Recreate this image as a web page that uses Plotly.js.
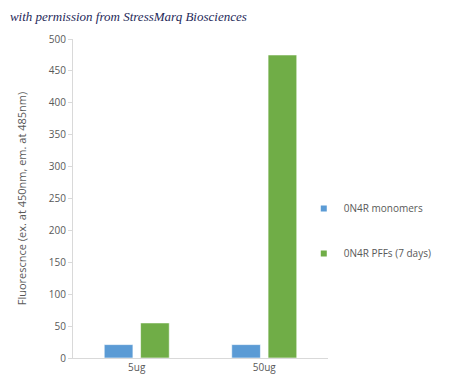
<!DOCTYPE html>
<html>
<head>
<meta charset="utf-8">
<script src="https://cdn.plot.ly/plotly-3.0.1.min.js"></script>
<style>html,body{margin:0;padding:0;background:#fff;}#chart{width:450px;height:392px;}</style>
</head>
<body>
<div id="chart"></div>
<script>
const categories = ["5ug", "50ug"];
const seriesNames = ["0N4R monomers", "0N4R PFFs (7 days)"];
const monomers = [21, 21];
const pffs = [55, 475];
const yTicks = [0, 50, 100, 150, 200, 250, 300, 350, 400, 450, 500];
const colors = ["#5b9bd5", "#70ad47"];

const traces = [monomers, pffs].map((vals, i) => ({
  type: "bar",
  x: categories,
  y: vals,
  name: seriesNames[i],
  showlegend: false,
  marker: {color: colors[i], line: {color: "rgba(255,255,255,0.6)", width: 1}},
  hoverinfo: "none"
}));
// legend entries with small square keys
seriesNames.forEach((n, i) => traces.push({
  type: "scatter", mode: "markers",
  x: [null], y: [null],
  name: n, legendgroup: "g" + i,
  marker: {symbol: "square", size: 6, color: colors[i]},
  hoverinfo: "none"
}));

const layout = {
  width: 450, height: 392,
  margin: {l: 73, r: 122, t: 39, b: 34},
  paper_bgcolor: "#fff", plot_bgcolor: "#fff",
  font: {family: "Open Sans, sans-serif", size: 10, color: "#595959"},
  title: {
    text: "with permission from StressMarq Biosciences",
    font: {family: "Liberation Serif, serif", size: 13, color: "#1f2a5a", style: "italic"},
    x: 0.022, xanchor: "left", xref: "container",
    y: 0.957, yanchor: "middle", yref: "container"
  },
  barmode: "group",
  bargap: 0.43,
  bargroupgap: 0.21,
  showlegend: true,
  legend: {
    x: 0.905, xanchor: "left", y: 0.398, yanchor: "middle",
    font: {size: 10, color: "#595959"},
    tracegroupgap: 26,
    itemwidth: 30,
    bgcolor: "rgba(0,0,0,0)"
  },
  xaxis: {
    type: "category",
    showline: true, linecolor: "#d9d9d9", linewidth: 1,
    ticks: "", showgrid: false, zeroline: false,
    tickfont: {size: 10, color: "#595959"}
  },
  yaxis: {
    range: [0, 500],
    tickvals: yTicks,
    showline: true, linecolor: "#d9d9d9", linewidth: 1,
    ticks: "outside", ticklen: 4, tickcolor: "#d9d9d9",
    showgrid: false, zeroline: false,
    tickfont: {size: 10, color: "#595959"},
    title: {text: "Fluorescnce (ex. at 450nm, em. at 485nm)", font: {size: 11, color: "#595959"}, standoff: 19}
  }
};

Plotly.newPlot("chart", traces, layout, {displayModeBar: false, staticPlot: true});
</script>
</body>
</html>
